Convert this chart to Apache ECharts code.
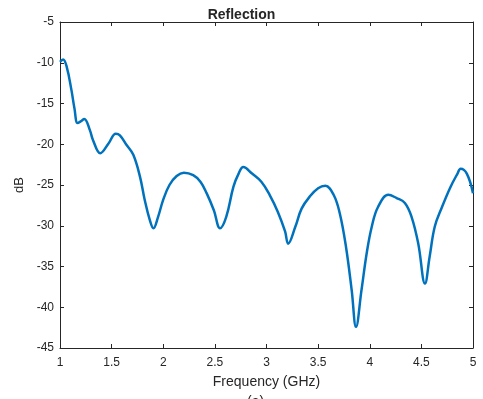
<!DOCTYPE html>
<html><head><meta charset="utf-8">
<script src="https://cdn.jsdelivr.net/npm/echarts@6/dist/echarts.min.js"></script>
<style>html,body{margin:0;padding:0;background:#fff;overflow:hidden}#c{width:483px;height:399px}</style>
</head><body><div id="c"></div>
<script>
var freq = [1.0,1.03,1.065,1.11,1.14,1.17,1.2,1.235,1.29,1.32,1.39,1.47,1.54,1.58,1.645,1.71,1.775,1.82,1.87,1.905,1.95,2.0,2.06,2.13,2.2,2.29,2.36,2.42,2.49,2.55,2.61,2.68,2.73,2.775,2.86,2.95,3.03,3.11,3.18,3.21,3.28,3.34,3.42,3.5,3.57,3.65,3.71,3.77,3.825,3.867,3.92,3.97,4.02,4.08,4.18,4.26,4.34,4.405,4.47,4.535,4.58,4.63,4.7,4.78,4.85,4.88,4.94,5.0];
var db =   [-9.9,-9.6,-10.5,-13.3,-15.6,-17.4,-17.2,-16.9,-18.3,-19.5,-21.1,-19.9,-18.7,-18.9,-20.1,-21.3,-24.0,-26.8,-29.3,-30.3,-28.9,-26.8,-25.0,-23.9,-23.5,-23.8,-24.6,-26.0,-28.1,-30.3,-28.9,-25.2,-23.6,-22.8,-23.6,-24.6,-26.2,-28.3,-30.7,-32.2,-30.1,-27.9,-26.4,-25.4,-25.1,-26.2,-28.5,-32.6,-37.9,-42.4,-37.9,-33.4,-30.1,-27.7,-26.2,-26.6,-27.2,-28.9,-32.2,-37.1,-33.8,-30.1,-27.7,-25.3,-23.6,-23.0,-23.6,-26.0];
var xTicks = [1,1.5,2,2.5,3,3.5,4,4.5,5];
var yTicks = [-5,-10,-15,-20,-25,-30,-35,-40,-45];
var txt = '#262626';
var font = 'Liberation Sans, Arial, sans-serif';
var chart = echarts.init(document.getElementById('c'));
var data = freq.map(function(f,i){return [f, db[i]];});
var axBase = {
  axisLine:{show:true,onZero:false,lineStyle:{color:txt,width:1}},
  axisTick:{show:true,inside:true,length:4,lineStyle:{color:txt}},
  splitLine:{show:false}
};
chart.setOption({
  animation:false,
  backgroundColor:'#fff',
  title:{text:'Reflection',left:'center',top:3,textStyle:{fontFamily:font,fontSize:14,fontWeight:'bold',color:txt}},
  grid:{left:60,right:10,top:22,bottom:51},
  xAxis:[
    Object.assign({type:'value',min:xTicks[0],max:xTicks[xTicks.length-1],interval:0.5,position:'bottom',
      name:'Frequency (GHz)',nameLocation:'middle',nameGap:27,
      nameTextStyle:{fontFamily:font,fontSize:14,color:txt},
      axisLabel:{fontFamily:font,fontSize:12,color:txt,margin:9}},axBase),
    Object.assign({type:'value',min:xTicks[0],max:xTicks[xTicks.length-1],interval:0.5,position:'top',axisLabel:{show:false}},axBase)
  ],
  yAxis:[
    Object.assign({type:'value',min:yTicks[yTicks.length-1],max:yTicks[0],interval:5,position:'left',
      name:'dB',nameLocation:'middle',nameGap:24,
      nameTextStyle:{fontFamily:font,fontSize:13,color:txt},
      axisLabel:{fontFamily:font,fontSize:12,color:txt,margin:6}},axBase),
    Object.assign({type:'value',min:yTicks[yTicks.length-1],max:yTicks[0],interval:5,position:'right',axisLabel:{show:false}},axBase)
  ],
  graphic:[{type:'text',left:247,top:395,style:{text:'(a)',font:'14px '+font,fill:txt}}],
  series:[{type:'line',data:data,smooth:0.4,showSymbol:false,xAxisIndex:0,yAxisIndex:0,
    lineStyle:{color:'#0072BD',width:2.5}}]
});
</script></body></html>
